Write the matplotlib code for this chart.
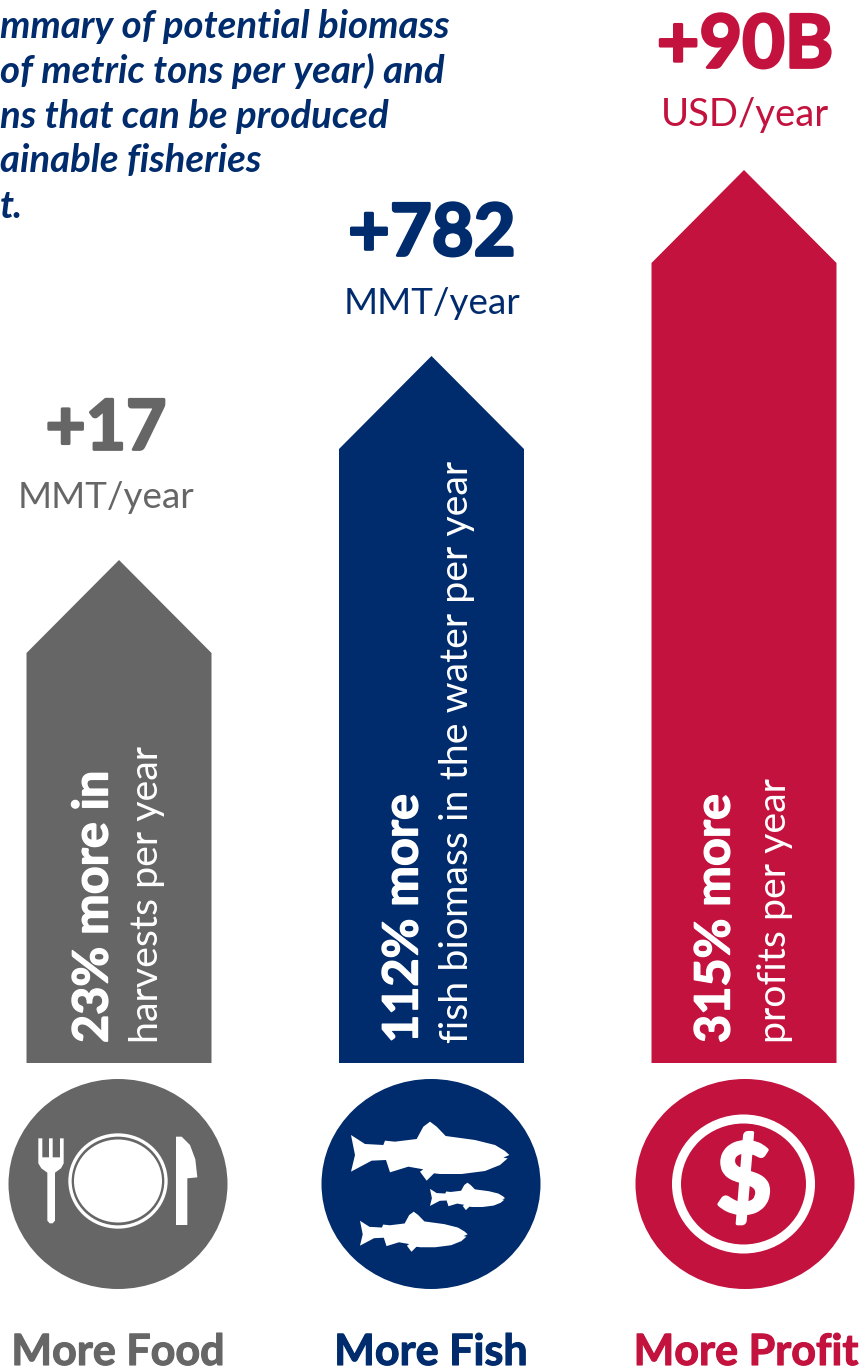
import matplotlib
matplotlib.use("Agg")
import matplotlib.pyplot as plt
import matplotlib.patheffects as pe
from matplotlib.patches import Ellipse, Polygon

# --- values ---
GROUPS = ["More Food", "More Fish", "More Profit"]
BIG_VALUES = ["+17", "+782", "+90B"]
UNITS = ["MMT/year", "MMT/year", "USD/year"]
PCT_LINES = ["23% more in", "112% more", "315% more"]
DETAIL_LINES = ["harvests per year", "fish biomass in the water per year", "profits per year"]
ARROW_HEIGHTS = [503, 707, 893]  # arrow length in px, not to scale with the labels
INTRO_LINES = [
    "mmary of potential biomass",
    "of metric tons per year) and",
    "ns that can be produced",
    "ainable fisheries",
    "t.",
]

# --- palette ---
COLORS = ["#666666", "#002B6C", "#C2123D"]

# --- layout, in image pixels ---
W, H = 863, 1367
ARROW_X = [119, 431.5, 744]
CIRCLE_X = [118, 431, 745]
VALUE_X = [106, 432, 745]
VALUE_Y = [430, 235, 46]
VALUE_SIZE = [50, 52, 53]
UNIT_Y = [497, 303, 115]
UNIT_SIZE = [26.5, 26.5, 27.5]
PCT_X = [93, 403, 715]
DETAIL_X = [147, 457, 775]
BASE_Y = 1063
HALF_W = 92.5
HEAD_H = 93
CIRCLE_Y, CIRCLE_W, CIRCLE_H = 1184, 219, 210

# icon outlines, in 3x crop coordinates
FORK = [(115, 205), (127, 205), (127, 262), (147, 262), (147, 205), (158, 205), (158, 262),
        (180, 262), (180, 205), (191, 205), (191, 280), (183, 295), (165, 308), (165, 452),
        (158, 460), (149, 460), (142, 452), (142, 308), (124, 295), (115, 280)]
KNIFE = [(528, 200), (545, 200), (570, 225), (586, 268), (592, 322), (562, 325), (562, 465), (528, 465)]
FISH = [(108, 195), (150, 222), (205, 225), (210, 212), (240, 215), (305, 207), (325, 170),
        (345, 155), (365, 170), (392, 198), (480, 210), (540, 225), (570, 243), (583, 255),
        (565, 263), (578, 265), (555, 285), (510, 303), (440, 312), (375, 312), (357, 310),
        (335, 332), (315, 305), (325, 298), (280, 290), (225, 307), (213, 270), (170, 272),
        (108, 305), (120, 255)]

plt.rcParams["font.family"] = ["Lato", "DejaVu Sans"]

fig = plt.figure(figsize=(W / 100, H / 100), dpi=100)
ax = fig.add_axes([0, 0, 1, 1])
ax.set_xlim(0, W)
ax.set_ylim(H, 0)
ax.axis("off")


def crop_poly(pts, x0, y0, **kw):
    return Polygon([(x0 + px / 3, y0 + py / 3) for px, py in pts], closed=True, **kw)


def thick(color, lw=1.0):
    return [pe.withStroke(linewidth=lw, foreground=color)]


for i, height in enumerate(ARROW_HEIGHTS):
    x, c = ARROW_X[i], COLORS[i]
    tip = BASE_Y - height
    ax.fill(
        [x - HALF_W, x - HALF_W, x, x + HALF_W, x + HALF_W],
        [BASE_Y, tip + HEAD_H, tip, tip + HEAD_H, BASE_Y],
        color=c, lw=0,
    )
    ax.text(VALUE_X[i], VALUE_Y[i], BIG_VALUES[i], color=c, fontsize=VALUE_SIZE[i], fontweight="bold",
            ha="center", va="center", path_effects=thick(c, 2.0))
    ax.text(VALUE_X[i], UNIT_Y[i], UNITS[i], color=c, fontsize=UNIT_SIZE[i], ha="center", va="center")
    # rotated text inside the shaft
    ax.text(PCT_X[i], 1043, PCT_LINES[i], color="white", fontsize=35, fontweight="bold",
            rotation=90, ha="center", va="bottom", path_effects=thick("white", 1.0))
    ax.text(DETAIL_X[i], 1043, DETAIL_LINES[i], color="white", fontsize=28.4,
            rotation=90, ha="center", va="bottom")
    ax.add_patch(Ellipse((CIRCLE_X[i], CIRCLE_Y), CIRCLE_W, CIRCLE_H, color=c, lw=0))
    # the reference has these sitting right on the bottom edge
    ax.text(CIRCLE_X[i] + (i == 2), 1365, GROUPS[i], color=c, fontsize=31, fontweight="bold",
            ha="center", va="baseline", path_effects=thick(c, 0.8))

# plate and cutlery
ax.add_patch(crop_poly(FORK, 0, 1070, color="white", lw=0))
ax.add_patch(crop_poly(KNIFE, 0, 1070, color="white", lw=0))
ax.add_patch(Ellipse((118, 1181), 96, 92, fc="none", ec="white", lw=2.4))
ax.add_patch(Ellipse((118, 1181), 88, 83, color="white", lw=0))

# fish
ax.add_patch(crop_poly(FISH, 315, 1070, color="white", lw=0))
small = [((px - 108) * 0.474 + 345, (py - 155) * 0.465 + 338) for px, py in FISH]
lower = [((px - 108) * 0.68 + 135, (py - 155) * 0.68 + 425) for px, py in FISH]
ax.add_patch(crop_poly(small, 315, 1070, color="white", lw=0))
ax.add_patch(crop_poly(lower, 315, 1070, color="white", lw=0))

# dollar
ax.add_patch(Ellipse((743.5, 1184), 134, 130, fc="none", ec="white", lw=6.5))
ax.text(744, 1183, "$", color="white", fontsize=70, fontweight="bold", ha="center", va="center",
        path_effects=thick("white", 2.5))

# cropped intro text
for j, line in enumerate(INTRO_LINES):
    ax.text(0, 26 + j * 45, line, color=COLORS[1], fontsize=27.6, fontweight="bold",
            fontstyle="italic", ha="left", va="center")

fig.savefig("out.png", dpi=100)
